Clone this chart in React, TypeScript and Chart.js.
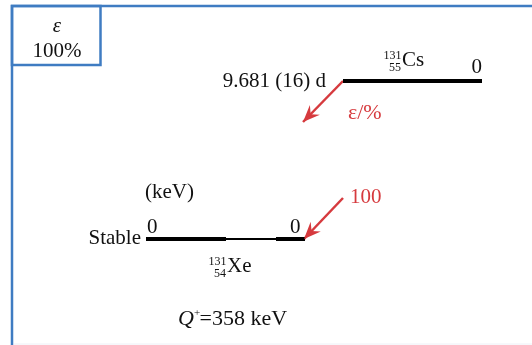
import React, { useEffect, useRef } from "react";
import { Chart, registerables } from "chart.js";

Chart.register(...registerables);

// ---- data ----
const massNumber = 131;
const parentSymbol = "Cs";
const parentZ = 55;
const parentHalfLife = "9.681 (16) d";
const parentLevelEnergy = 0; // keV (level label)
const daughterSymbol = "Xe";
const daughterZ = 54;
const daughterHalfLife = "Stable";
const daughterLevelEnergies = [0]; // keV
const branchIntensities = [100]; // %
const qValue = 358; // keV
const decayMode = "ε";
const decayTotal = "100%";

// ---- layout (pixels / keV axis) ----
const W = 532;
const H = 345;
const PX_PER_KEV = 158 / qValue;
const Y_MAX = qValue + 81 / PX_PER_KEV;
const Y_MIN = 0 - (H - 239) / PX_PER_KEV;
const ARROW_DROP = 41 / PX_PER_KEV;

const RED = "#d63a3e";
const BLUE = "#3f7cc2";
const SERIF = "'Liberation Serif', 'DejaVu Serif', serif";
const FS = 21;

export default function App() {
  const ref = useRef<HTMLCanvasElement | null>(null);

  useEffect(() => {
    const canvas = ref.current;
    if (!canvas) return;
    const parentE = qValue;
    const dE = daughterLevelEnergies[0];

    const datasets: any[] = [
      {
        label: "parent",
        data: [{ x: 343, y: parentE }, { x: 482, y: parentE }],
        borderColor: "#000",
        borderWidth: 4,
      },
      {
        label: "daughter-a",
        data: [{ x: 146, y: dE }, { x: 226, y: dE }],
        borderColor: "#000",
        borderWidth: 4,
      },
      {
        label: "daughter-b",
        data: [{ x: 225, y: dE }, { x: 277, y: dE }],
        borderColor: "#000",
        borderWidth: 2,
      },
      {
        label: "daughter-c",
        data: [{ x: 276, y: dE }, { x: 305, y: dE }],
        borderColor: "#000",
        borderWidth: 4,
      },
      {
        label: "arrow1",
        data: [{ x: 343, y: parentE }, { x: 303, y: parentE - ARROW_DROP }],
        borderColor: RED,
        borderWidth: 2.5,
        arrow: true,
      },
      {
        label: "arrow2",
        data: [{ x: 343, y: dE + ARROW_DROP }, { x: 304, y: dE }],
        borderColor: RED,
        borderWidth: 2.5,
        arrow: true,
      },
    ].map((d) => ({
      ...d,
      showLine: true,
      pointRadius: 0,
      fill: false,
      tension: 0,
      borderCapStyle: "butt",
    }));

    const txt = (
      ctx: CanvasRenderingContext2D,
      s: string,
      x: number,
      y: number,
      size: number,
      color = "#111",
      align: CanvasTextAlign = "left",
      italic = false
    ) => {
      ctx.font = `${italic ? "italic " : ""}${size}px ${SERIF}`;
      ctx.fillStyle = color;
      ctx.textAlign = align;
      ctx.textBaseline = "alphabetic";
      ctx.fillText(s, x, y);
      return ctx.measureText(s).width;
    };

    const nuclide = (
      ctx: CanvasRenderingContext2D,
      A: number,
      Z: number,
      sym: string,
      xSym: number,
      base: number
    ) => {
      txt(ctx, String(A), xSym - 0.5, base - 7, 12, "#111", "right");
      txt(ctx, String(Z), xSym - 1, base + 5, 12, "#111", "right");
      txt(ctx, sym, xSym, base, FS);
    };

    const plugin = {
      id: "decay",
      beforeDraw(chart: any) {
        const ctx = chart.ctx;
        ctx.save();
        ctx.fillStyle = "#fff";
        ctx.fillRect(0, 0, W, H);
        ctx.restore();
      },
      afterDatasetsDraw(chart: any) {
        const ctx: CanvasRenderingContext2D = chart.ctx;
        const xs = chart.scales.x;
        const ys = chart.scales.y;
        ctx.save();
        // arrowheads
        chart.data.datasets.forEach((ds: any) => {
          if (!ds.arrow) return;
          const p0 = ds.data[0];
          const p1 = ds.data[1];
          const x0 = xs.getPixelForValue(p0.x);
          const y0 = ys.getPixelForValue(p0.y);
          const x1 = xs.getPixelForValue(p1.x);
          const y1 = ys.getPixelForValue(p1.y);
          const ang = Math.atan2(y1 - y0, x1 - x0);
          const L = 17;
          const Wd = 7;
          const N = 11;
          ctx.save();
          ctx.translate(x1, y1);
          ctx.rotate(ang);
          ctx.fillStyle = RED;
          ctx.beginPath();
          ctx.moveTo(0, 0);
          ctx.lineTo(-L, -Wd);
          ctx.lineTo(-N, 0);
          ctx.lineTo(-L, Wd);
          ctx.closePath();
          ctx.fill();
          ctx.restore();
        });

        // border frame
        ctx.strokeStyle = BLUE;
        ctx.lineWidth = 2.5;
        ctx.beginPath();
        ctx.moveTo(W, 6);
        ctx.lineTo(12, 6);
        ctx.lineTo(12, H);
        ctx.stroke();
        ctx.strokeRect(12, 6, 88.5, 59);
        ctx.strokeStyle = "#eef0f6";
        ctx.lineWidth = 1;
        ctx.beginPath();
        ctx.moveTo(14, 344);
        ctx.lineTo(W, 344);
        ctx.stroke();

        // box text
        txt(ctx, decayMode, 57, 32, FS, "#111", "center", true);
        txt(ctx, decayTotal, 57, 57, FS, "#111", "center");

        const yP = ys.getPixelForValue(qValue);
        const yD = ys.getPixelForValue(daughterLevelEnergies[0]);

        // parent labels
        nuclide(ctx, massNumber, parentZ, parentSymbol, 402, yP - 15);
        txt(ctx, String(parentLevelEnergy), 482, yP - 8, FS, "#111", "right");
        txt(ctx, parentHalfLife, 326, yP + 6, FS, "#111", "right");
        txt(ctx, "ε/%", 348, yP + 38, 22, RED, "left");

        // daughter labels
        txt(ctx, "(keV)", 145, yD - 41, FS);
        txt(ctx, String(daughterLevelEnergies[0]), 147, yD - 6, FS);
        txt(ctx, String(daughterLevelEnergies[0]), 290, yD - 6, FS);
        txt(ctx, daughterHalfLife, 141, yD + 5, FS, "#111", "right");
        nuclide(ctx, massNumber, daughterZ, daughterSymbol, 227, yD + 33);
        txt(ctx, String(branchIntensities[0]), 350, yD - 36, FS, RED, "left");

        // Q value
        let x = 178;
        const qb = 325;
        x += txt(ctx, "Q", x, qb, 22, "#111", "left", true);
        x += txt(ctx, "+", x, qb - 9, 11) - 0.5;
        txt(ctx, `=${qValue} keV`, x, qb, 22);

        ctx.restore();
      },
    };

    const chart = new Chart(canvas, {
      type: "scatter",
      data: { datasets },
      options: {
        animation: false,
        responsive: false,
        maintainAspectRatio: false,
        layout: { padding: 0 },
        plugins: { legend: { display: false }, tooltip: { enabled: false } },
        scales: {
          x: { type: "linear", min: 0, max: W, display: false },
          y: { type: "linear", min: Y_MIN, max: Y_MAX, display: false },
        },
      },
      plugins: [plugin],
    } as any);
    return () => chart.destroy();
  }, []);

  return (
    <div style={{ position: "absolute", left: 0, top: 0, width: W, height: H }}>
      <canvas ref={ref} width={W} height={H} style={{ width: W, height: H, display: "block" }} />
    </div>
  );
}
